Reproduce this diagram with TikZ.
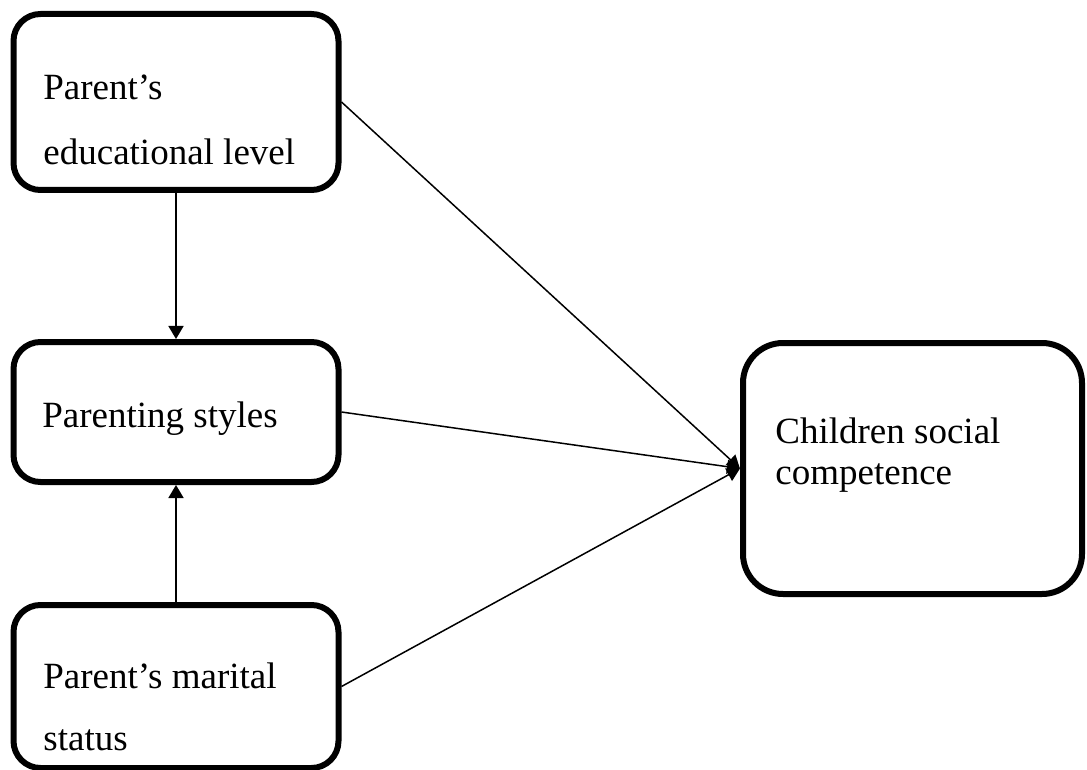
\documentclass[tikz,border=0pt]{standalone}
\usepackage{fontspec}
\setmainfont{Liberation Serif}
\usetikzlibrary{arrows.meta}
\begin{document}
\begin{tikzpicture}[x=0.5pt,y=-0.5pt,
  box/.style={draw=black,line width=3pt,rectangle,inner sep=0pt,fill=white},
  lbl/.style={anchor=base west,inner sep=0pt,font=\fontsize{18.5}{22}\selectfont},
  arr/.style={line width=0.9pt,-{Triangle[length=6.5pt,width=7.5pt]}},
  diag/.style={line width=0.75pt,-{Triangle[length=6.5pt,width=7pt]}}]
\useasboundingbox (0,0) rectangle (1087,770);
\node[box,rounded corners=13.5pt,minimum width=162.5pt,minimum height=88pt] (b1) at (176,102) {};
\node[box,rounded corners=13.5pt,minimum width=162.5pt,minimum height=70pt] (b2) at (176,412) {};
\node[box,rounded corners=13.5pt,minimum width=162.5pt,minimum height=81.5pt] (b3) at (176,686.5) {};
\node[box,rounded corners=20pt,minimum width=169.5pt,minimum height=125.5pt] (b4) at (912.5,468.5) {};
\node[lbl] (t1a) at (43,100) {Parent’s};
\node[lbl] (t1b) at (43,165) {educational level};
\node[lbl] (t2) at (42,427) {Parenting styles};
\node[lbl] (t3a) at (43,688) {Parent’s marital};
\node[lbl] (t3b) at (43,750) {status};
\node[lbl] (t4a) at (775,443) {Children social};
\node[lbl] (t4b) at (775,484) {competence};
\draw[arr] (b1.south) -- (b2.north);
\draw[arr] (b3.north) -- (b2.south);
\draw[diag] (b1.east) -- (b4.west);
\draw[diag] (b2.east) -- (b4.west);
\draw[diag] (b3.east) -- (b4.west);
\end{tikzpicture}
\end{document}
